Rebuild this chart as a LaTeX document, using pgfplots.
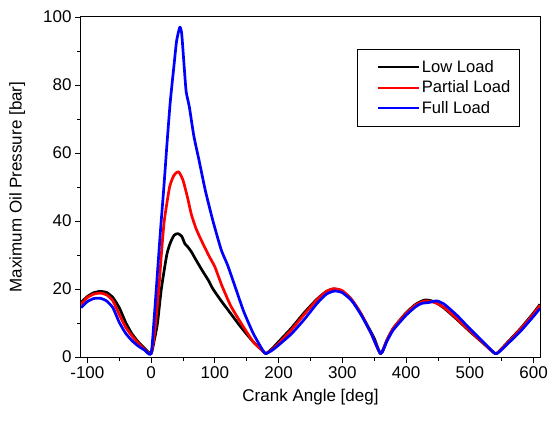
\documentclass[border=0pt]{standalone}
\usepackage{pgfplots}
\pgfplotsset{compat=1.18}
\usepackage{fontspec}
\setmainfont{Liberation Sans}

\pgfplotstableread{
x y
-110 16
-100 17.8
-90 18.9
-80 19.3
-70 19
-60 17.5
-50 14.5
-40 10.2
-30 6.8
-20 4.4
-10 2.5
0 1
5 5
10 10
16 20
24.5 30
30 33.5
36 35.8
42 36.3
48 35.5
53 33.3
57 32.5
63 31
69 29
80 25.5
90 22.5
97 20
110 16.5
120 14
140 9
160 4.5
175 1.8
180 1
190 2.5
200 4.5
220 8.5
240 13
260 17
275 19.3
285 20
295 19.7
310 17.8
325 14
340 9
350 5.5
360 1
370 5
380 8.5
400 13
415 15.5
430 16.8
445 16.2
460 14.3
480 11
500 7.5
520 4.2
540 1
550 2.5
560 4.5
580 8.5
600 13
610 15.5
}\lowload

\pgfplotstableread{
x y
-110 15.5
-100 17.5
-90 18.5
-80 18.8
-70 18.3
-60 16.5
-50 12.5
-40 8.8
-30 6.2
-20 4
-10 2.2
0 1
6 8
12 20
16 30
20.6 40
29 50
36 53.5
43 54.5
50 52
57 47
63 42
70 38
77 35
90 30
100 26.5
111 21
125 15
141 10
160 4.5
175 1.8
180 1
190 2.2
200 4
220 8
240 12.5
260 16.8
275 19.3
287 20.1
300 19.5
315 16.8
330 12.5
345 7
360 1
370 5
380 8.5
400 12.8
415 15.3
430 16.5
445 16
460 14.5
480 11.2
500 7.7
520 4.3
540 1
550 2.4
560 4.3
580 8.3
600 12.7
610 15.2
}\partload

\pgfplotstableread{
x y
-110 14.5
-100 16.3
-90 17.2
-80 17.3
-70 16.5
-60 14.5
-50 10.2
-40 7
-30 4.8
-20 3.2
-10 2
0 1
5 12
10 25
15 38
20 50
25 63
30 75
36 86
40 93
45 97
48 95
52 85
55 78
60 73.5
67 65
75 58
85 49
97 40
110 31.5
120 27
133 20
145 13.5
160 7
175 2
180 1
190 2
200 3.5
220 6.8
240 11
260 15.7
275 18.5
288 19.4
300 18.9
315 16.5
330 12.2
345 7
360 1
370 4.7
380 8
400 12.3
415 14.8
425 15.8
435 16
448 16.5
460 15.5
480 12.2
500 8.3
520 4.6
540 1
550 2.2
560 4
580 7.7
600 12
610 14.3
}\fullload

\begin{document}
\begin{tikzpicture}
\begin{axis}[
    name=ax,
    scale only axis,
    width=459pt, height=340pt,
    xmin=-110, xmax=610,
    ymin=0, ymax=100,
    xtick={-100,0,...,600},
    minor x tick num=1,
    ytick={0,20,...,100},
    minor y tick num=1,
    tick align=outside,
    xtick pos=bottom, ytick pos=left,
    major tick length=6pt,
    minor tick length=3.5pt,
    tick style={black, line width=0.9pt},
    axis line style={line width=1pt},
    every axis plot/.append style={line width=2.7pt, line join=round, smooth, tension=0.35},
    ticklabel style={font=\fontsize{17}{19}\selectfont},
    label style={font=\fontsize{17}{19}\selectfont},
    /pgf/number format/assume math mode=true,
    xlabel={Crank Angle [deg]},
    ylabel={Maximum Oil Pressure [bar]},
    xlabel style={at={(axis description cs:0.5,-0.118)}, anchor=center},
    ylabel style={at={(axis description cs:-0.139,0.5)}, anchor=center},
    legend style={at={(0.956,0.906)}, anchor=north east, draw=black,
        line width=0.8pt, font=\fontsize{16.6}{19}\selectfont,
        inner xsep=7pt, inner ysep=9pt, row sep=3pt},
    legend cell align=left,
    legend image code/.code={\path (0pt,0pt); \draw[#1, smooth=false, line width=2.2pt] (12pt,0pt) -- (53pt,0pt);},
]
\addplot[black] table {\lowload};
\addplot[red] table {\partload};
\addplot[blue] table {\fullload};
\legend{Low Load, Partial Load, Full Load}
\end{axis}
\path[use as bounding box] ([shift={(-81pt,-64pt)}]ax.south west) rectangle ([shift={(16pt,17pt)}]ax.north east);
\end{tikzpicture}
\end{document}
